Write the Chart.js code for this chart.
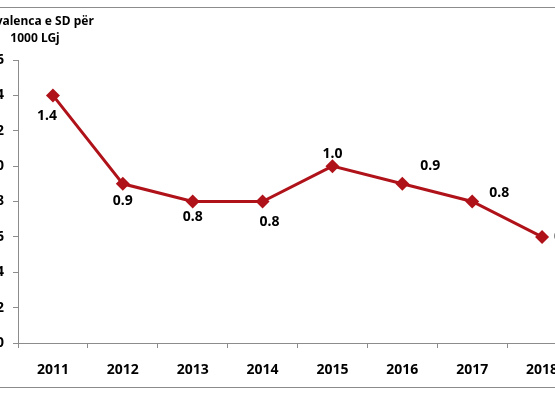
<!DOCTYPE html>
<html>
<head>
<meta charset="utf-8">
<script src="https://cdn.jsdelivr.net/npm/chart.js@4.4.0/dist/chart.umd.min.js"></script>
<style>
  html, body { margin: 0; padding: 0; background: #fff; }
  #wrap { position: relative; width: 555px; height: 393px; overflow: hidden; }
  #box { position: absolute; left: -40px; top: 0; width: 640px; height: 393px; }
</style>
</head>
<body>
<div id="wrap"><div id="box"><canvas id="lineChart"></canvas></div></div>
<script>
// Data
const years = ['2011', '2012', '2013', '2014', '2015', '2016', '2017', '2018'];
const prevalence = [1.4, 0.9, 0.8, 0.8, 1.0, 0.9, 0.8, 0.6];
const yTicks = [0, 0.2, 0.4, 0.6, 0.8, 1.0, 1.2, 1.4, 1.6];

// Where each value label sits relative to its point (dx, dy)
const labelOffsets = [[-6, 21], [0, 17], [0, 16], [7, 21], [0, -12], [28, -18], [27, -8], [22, 0]];

const lineColor = '#B0121A';
const axisColor = '#8c8c8c';
const fontFamily = "'Noto Sans', 'Open Sans', sans-serif";

// Outer frame, axis title and the value labels
const decorations = {
    id: 'decorations',
    beforeDraw(chart) {
        const ctx = chart.ctx;
        ctx.save();
        ctx.strokeStyle = axisColor;
        ctx.lineWidth = 1;
        ctx.strokeRect(0.5, 7.5, chart.width - 1, 380);
        ctx.restore();
    },
    afterDatasetsDraw(chart) {
        const ctx = chart.ctx;
        const left = chart.chartArea.left;
        ctx.save();
        ctx.fillStyle = '#000';
        ctx.textAlign = 'center';
        ctx.textBaseline = 'middle';
        ctx.font = 'bold 12px ' + fontFamily;
        ctx.fillText('Prevalenca e SD për', left + 17, 22);
        ctx.fillText('1000 LGj', left + 17, 39);

        ctx.font = 'bold 14px ' + fontFamily;
        const meta = chart.getDatasetMeta(0);
        meta.data.forEach((pt, i) => {
            const off = labelOffsets[i];
            ctx.fillText(prevalence[i].toFixed(1), pt.x + off[0], pt.y + off[1]);
        });
        ctx.restore();
    }
};

const data = {
    labels: years,
    datasets: [
        {
            label: 'Prevalenca e SD për 1000 LGj',
            data: prevalence,
            borderColor: lineColor,
            backgroundColor: lineColor,
            borderWidth: 3,
            pointStyle: 'rectRot',
            pointRadius: 7,
            pointBorderWidth: 0,
            tension: 0
        }
    ]
};

const config = {
    type: 'line',
    data: data,
    options: {
        responsive: false,
        animation: false,
        layout: {
            padding: { top: 60, right: 23, bottom: 6, left: 0 }
        },
        plugins: {
            legend: { display: false },
            title: { display: false },
            tooltip: { enabled: false }
        },
        scales: {
            x: {
                offset: true,
                grid: {
                    display: true,
                    offset: true,
                    drawOnChartArea: false,
                    drawTicks: true,
                    tickLength: 5,
                    color: axisColor
                },
                border: { color: axisColor, width: 1 },
                ticks: {
                    color: '#000',
                    padding: 14,
                    maxRotation: 0,
                    font: { size: 14, weight: 'bold', family: fontFamily }
                },
                afterFit(scale) { scale.height = 44; }
            },
            y: {
                min: 0,
                max: 1.6,
                grid: {
                    drawOnChartArea: false,
                    drawTicks: true,
                    tickLength: 5,
                    color: axisColor
                },
                border: { color: axisColor, width: 1 },
                afterBuildTicks(scale) {
                    scale.ticks = yTicks.map(v => ({ value: v }));
                },
                ticks: {
                    color: '#000',
                    padding: 9,
                    font: { size: 14, weight: 'bold', family: fontFamily },
                    callback: v => Number(v).toFixed(1)
                },
                afterFit(scale) { scale.width = 58; }
            }
        }
    },
    plugins: [decorations]
};

const canvas = document.getElementById('lineChart');
canvas.width = 640;
canvas.height = 393;
new Chart(canvas.getContext('2d'), config);
</script>
</body>
</html>
